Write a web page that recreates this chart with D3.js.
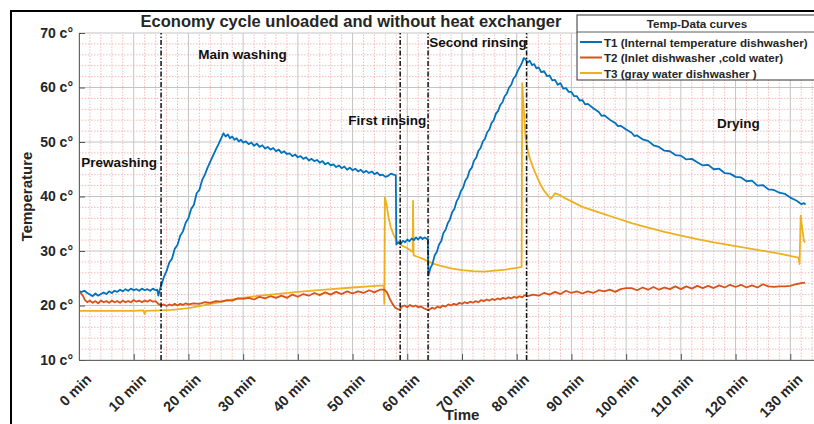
<!DOCTYPE html>
<html>
<head>
<meta charset="utf-8">
<script src="https://cdn.jsdelivr.net/npm/d3@7"></script>
<style>
  body { margin: 0; background: #fff; }
  text { font-family: "Liberation Sans", Arial, sans-serif; font-weight: bold; fill: #262626; }
</style>
</head>
<body>
<div id="container"></div>
<script>
// chart texts
var title = "Economy cycle unloaded and without heat exchanger";
var legendTitle = "Temp-Data curves";
var seriesNames = ["T1 (Internal temperature dishwasher)", "T2 (Inlet dishwasher ,cold water)", "T3 (gray water dishwasher )"];
var seriesColors = ["#0072BD", "#D95319", "#EDB120"];

// ticks
var xTicks = [0, 10, 20, 30, 40, 50, 60, 70, 80, 90, 100, 110, 120, 130];
var yTicks = [10, 20, 30, 40, 50, 60, 70];

// phase boundaries (min) and phase labels [text, min, temp]
var phaseLines = [15, 58.7, 63.8, 81.8];
var phaseLabels = [
	["Prewashing", 0.4, 45.4],
	["Main washing", 21.8, 65.2],
	["First rinsing", 49.2, 53.2],
	["Second rinsing", 64.0, 67.4],
	["Drying", 116.6, 52.6]
];

// T1 internal temperature [min, °C]
var t1 = [[0,22.6],[0.5,22.5],[1,22.7],[1.5,22.3],[2,22.0],[2.5,21.7],[3,22.2],[3.5,21.8],[4,22.1],[4.5,22.4],[5,22.1],[5.5,22.6],[6,22.3],[6.5,22.7],[7,22.5],[7.5,22.9],[8,22.6],[8.5,23.0],[9,22.7],[9.5,23.1],[10,22.8],[10.5,23.0],[11,22.7],[11.5,23.1],[12,22.8],[12.5,23.0],[13,22.7],[13.5,23.1],[14,22.8],[14.3,22.9],[14.5,21.8],[14.7,22.6],
	[15,23.6],[15.5,25.2],[16,26.3],[16.5,27.9],[17,28.6],[17.5,30.4],[18,31.1],[18.5,32.8],[19,33.6],[19.5,35.2],[20,36.0],[20.5,37.7],[21,38.5],[21.5,40.6],[22,41.2],[22.5,43.0],[23,44.0],[23.5,45.3],[24,46.4],[24.5,47.5],[25,48.6],[25.5,49.6],[26,50.7],[26.4,51.6],
	[26.8,51.0],[27.2,51.4],[27.6,50.7],[28,51.0],[28.4,50.4],[28.8,50.7],[29.2,50.1],[29.6,50.4],[30,49.9],[30.5,50.1],[31,49.6],[31.5,49.9],[32,49.3],[32.5,49.7],[33,49.1],[33.5,49.4],[34,48.8],[34.5,49.1],[35,48.6],[35.5,48.9],[36,48.3],[36.5,48.6],[37,48.0],[37.5,48.3],[38,47.8],[38.5,47.9],[39,47.4],[39.5,47.7],[40,47.2],[40.5,47.4],[41,46.9],[41.5,47.2],[42,46.6],[42.5,46.9],[43,46.5],[43.5,46.7],[44,46.2],[44.5,46.5],[45,45.9],[45.5,46.2],[46,45.7],[46.5,45.9],[47,45.4],[47.5,45.7],[48,45.2],[48.5,45.5],[49,44.9],[49.5,45.3],[50,44.8],[50.5,45.1],[51,44.6],[51.5,44.9],[52,44.4],[52.5,44.7],[53,44.3],[53.5,44.6],[54,44.1],[54.5,44.4],[55,43.9],[55.5,44.0],[56,43.6],[56.5,43.8],[57,44.2],[57.5,44.0],[57.9,43.9],
	[58.0,31.2],[58.4,31.6],[58.8,31.3],[59.2,31.9],[59.6,31.6],[60,32.1],[60.4,31.8],[60.8,32.3],[61.2,32.0],[61.6,32.5],[62,32.1],[62.4,32.6],[62.8,32.2],[63.2,32.5],[63.6,32.2],[63.75,32.3],
	[63.85,25.5],[64.2,26.8],[64.6,27.6],[65,29.2],[65.4,29.8],[65.8,31.2],[66.2,31.8],[66.6,33.3],[67,33.9],[67.4,35.1],[67.8,35.8],[68.2,37.1],[68.6,37.7],[69,39.1],[69.4,39.8],[69.8,41.0],[70.2,41.6],[70.6,42.9],[71,43.5],[71.4,44.8],[71.8,45.3],[72.2,46.6],[72.6,47.1],[73,48.4],[73.4,48.9],[73.8,50.1],[74.2,50.6],[74.6,51.8],[75,52.3],[75.4,53.5],[75.8,54.0],[76.2,55.2],[76.6,55.7],[77,56.8],[77.4,57.3],[77.8,58.4],[78.2,58.9],[78.6,60.0],[79,60.5],[79.4,61.6],[79.8,62.1],[80.2,63.1],[80.6,63.8],[81,64.6],[81.3,65.4],
	[81.6,65.2],[82,64.6],[82.4,64.9],[82.8,64.1],[83.2,64.3],[83.6,63.5],[84,63.7],[84.5,62.8],[85,63.0],[85.5,62.1],[86,62.2],[86.5,61.3],[87,61.4],[87.5,60.5],[88,60.8],[88.5,59.8],[89,59.9],[89.5,59.2],[90,59.2],[90.5,58.4],[91,58.4],[91.5,57.6],[92,57.7],[92.5,56.9],[93,57.0],[94,56.2],[95,55.5],[95.5,54.8],[96,54.9],[97,54.1],[98,53.5],[98.5,52.9],[99,53.0],[100,52.3],[101,51.7],[101.5,51.1],[102,51.2],[103,50.5],[104,50.2],[105,49.4],[106,49.1],[107,48.4],[108,48.3],[109,47.6],[110,47.5],[111,46.8],[112,46.9],[113,46.3],[114,45.7],[115,45.8],[116,45.0],[117,45.1],[118,44.3],[119,44.2],[120,43.6],[121,43.5],[122,42.8],[123,42.9],[124,42.0],[125,42.1],[126,41.3],[127,41.2],[128,40.7],[129,40.5],[130,39.8],[131,39.3],[131.5,39.0],[132,38.6],[132.5,38.8],[132.8,38.5]];

// T2 inlet cold water [min, °C]
var t2 = [[0,22.3],[0.3,22.3],[0.7,21.8],[1.1,21.0],[1.5,20.6],[2,20.9],[2.5,20.5],[3,20.8],[3.5,20.4],[4,20.9],[4.5,20.6],[5,20.8],[5.5,20.5],[6,20.9],[6.5,20.6],[7,20.8],[7.5,20.5],[8,20.9],[8.5,20.6],[9,20.8],[9.5,20.6],[10,21.0],[10.5,20.7],[11,20.9],[11.5,20.6],[12,20.9],[12.5,20.7],[13,21.0],[13.5,20.7],[14,20.8],[14.5,20.3],[15,20.0],[15.5,20.2],[16,19.9],[16.5,20.2],[17,20.0],[17.5,20.3],[18,20.0],[18.5,20.3],[19,20.1],[19.5,20.4],[20,20.2],[21,20.4],[22,20.3],[23,20.6],[24,20.5],[25,20.8],[26,20.7],[27,21.0],[28,20.9],[29,21.3],[30,21.2],[31,21.4],[32,21.1],[33,21.6],[34,21.3],[35,21.7],[36,21.4],[37,21.8],[38,21.4],[39,22.0],[40,21.6],[41,22.1],[42,21.8],[43,22.3],[44,21.9],[45,22.4],[46,22.0],[47,22.5],[48,22.1],[49,22.6],[50,22.2],[51,22.6],[52,22.3],[53,22.8],[54,22.4],[55,22.9],[55.8,22.9],[56.3,22.4],[56.8,21.2],[57.3,20.3],[57.8,19.6],[58.3,19.3],[58.7,19.3],[59.1,19.9],[59.5,20.0],[60,19.7],[60.5,20.1],[61,19.8],[61.5,20.0],[62,19.7],[62.5,19.8],[63,19.5],[63.5,19.3],[64,19.2],[64.5,19.6],[65,19.4],[65.5,19.8],[66,19.6],[66.5,20.0],[67,19.8],[67.5,20.2],[68,20.0],[68.5,20.3],[69,20.1],[69.5,20.5],[70,20.3],[70.5,20.6],[71,20.4],[71.5,20.7],[72,20.5],[72.5,20.8],[73,20.6],[73.5,21.0],[74,20.8],[74.5,21.1],[75,20.9],[75.5,21.2],[76,21.0],[76.5,21.3],[77,21.1],[77.5,21.4],[78,21.2],[78.5,21.5],[79,21.3],[79.5,21.6],[80,21.4],[80.5,21.7],[81,21.5],[81.5,21.9],[82,21.7],[83,22.0],[84,21.8],[85,22.3],[86,22.0],[87,22.5],[88,22.1],[89,22.7],[90,22.3],[91,22.6],[92,22.2],[93,22.6],[94,22.3],[95,22.8],[96,22.6],[97,22.9],[98,22.5],[99,23.0],[100,23.2],[101,23.2],[102,22.8],[103,23.3],[104,22.9],[105,23.4],[106,22.9],[107,23.3],[108,23.0],[109,23.5],[110,23.0],[111,23.5],[112,23.1],[113,23.6],[114,23.2],[115,23.6],[116,23.2],[117,23.7],[118,23.3],[119,23.8],[120,23.4],[121,23.8],[122,23.3],[123,23.7],[124,23.3],[125,23.9],[126,23.5],[127,23.4],[128,23.5],[129,23.5],[130,23.6],[131,23.9],[132,24.1],[132.7,24.2]];

// T3 gray water [min, °C]
var t3 = [[0,19.0],[5,19.0],[10,19.0],[11.8,19.1],[12,18.4],[12.2,19.0],[15,19.1],[17,19.2],[20,19.5],[22,19.9],[25,20.5],[28,21.1],[30,21.4],[33,21.8],[36,22.1],[40,22.5],[45,22.9],[50,23.3],[53,23.5],[55.7,23.7],[55.8,20.3],[55.9,39.8],[56.2,38.6],[56.6,36.0],[57.0,34.3],[57.5,33.0],[58.1,31.8],[59,31.0],[60,30.5],[61,29.8],[61.05,39.2],[61.15,29.2],[62,28.9],[63,28.5],[64,28.0],[65,27.6],[66,27.3],[68,26.8],[70,26.5],[72,26.3],[74,26.2],[76,26.4],[78,26.6],[80,26.9],[80.9,27.1],[81.0,60.8],[81.3,56.0],[81.6,51.0],[82,48.5],[82.4,47.0],[83,45.3],[83.7,43.6],[84.3,42.3],[84.9,41.2],[85.6,40.3],[86.2,39.6],[86.5,39.9],[87,40.6],[88,40.2],[89,39.6],[90,39.1],[92,38.1],[95,37.1],[98,36.1],[101,35.1],[104,34.3],[107,33.5],[110,32.8],[113,32.2],[116,31.6],[120,30.9],[124,30.2],[128,29.5],[131.5,28.8],[131.7,27.6],[131.9,36.5],[132.2,34.0],[132.5,31.8],[132.7,31.6]];

var series = [t1, t2, t3];

var width = 814, height = 424;

var svg = d3.select("#container").append("svg")
	.attr("width", width)
	.attr("height", height);

// outer figure frame (cropped on right and bottom)
svg.append("rect")
	.attr("x", 11).attr("y", 11)
	.attr("width", 900).attr("height", 500)
	.style("fill", "none").style("stroke", "#000").style("stroke-width", 2);

var x = d3.scaleLinear().domain([0, 140]).range([79, 845]);
var y = d3.scaleLinear().domain([10, 70]).range([360, 33]);

var plot = svg.append("g");

// minor grid (pink dotted)
plot.selectAll(".xminor")
	.data(d3.range(2, 140, 2).filter(function(d) { return d % 10 != 0; }))
	.enter().append("line")
		.attr("x1", function(d) { return x(d); }).attr("x2", function(d) { return x(d); })
		.attr("y1", y(10)).attr("y2", y(70))
		.style("stroke", "#f4a8a8").style("stroke-dasharray", "1.5,1.5").style("stroke-width", 0.8);
plot.selectAll(".yminor")
	.data(d3.range(12, 70, 2).filter(function(d) { return d % 10 != 0; }))
	.enter().append("line")
		.attr("x1", x(0)).attr("x2", x(140))
		.attr("y1", function(d) { return y(d); }).attr("y2", function(d) { return y(d); })
		.style("stroke", "#f4a8a8").style("stroke-dasharray", "1.5,1.5").style("stroke-width", 0.8);

// major grid
plot.selectAll(".xmajor")
	.data(xTicks.concat([140]))
	.enter().append("line")
		.attr("x1", function(d) { return x(d); }).attr("x2", function(d) { return x(d); })
		.attr("y1", y(10)).attr("y2", y(70))
		.style("stroke", "#c4c4c4").style("stroke-width", 1);
plot.selectAll(".ymajor")
	.data(yTicks)
	.enter().append("line")
		.attr("x1", x(0)).attr("x2", x(140))
		.attr("y1", function(d) { return y(d); }).attr("y2", function(d) { return y(d); })
		.style("stroke", "#c4c4c4").style("stroke-width", 1);

// axes
var xAxis = d3.axisBottom(x).tickValues(xTicks).tickSizeInner(-6).tickSizeOuter(0).tickFormat("");
var yAxis = d3.axisLeft(y).tickValues(yTicks).tickSizeInner(-6).tickSizeOuter(0)
	.tickFormat(function(d) { return d + " c\u00b0"; });

var gx = svg.append("g").attr("transform", "translate(0," + y(10) + ")").call(xAxis);
gx.select(".domain").style("stroke", "#666");
gx.selectAll(".tick line").style("stroke", "#555");

gx.selectAll(".xlab")
	.data(xTicks)
	.enter().append("text")
		.attr("transform", function(d) { return "translate(" + (x(d) + 6) + ",13) rotate(-45)"; })
		.style("text-anchor", "end")
		.attr("dy", "0.71em")
		.style("font-size", "14.5px")
		.text(function(d) { return d + " min"; });

var gy = svg.append("g").attr("transform", "translate(" + x(0) + ",0)").call(yAxis);
gy.select(".domain").style("stroke", "#666");
gy.selectAll(".tick line").style("stroke", "#555");
gy.selectAll(".tick text")
	.attr("x", -6)
	.style("font-size", "14px")
	.style("font-family", "'Liberation Sans', Arial, sans-serif")
	.style("font-weight", "bold")
	.style("fill", "#262626");

// axis labels
svg.append("text")
	.attr("transform", "translate(32," + ((y(10) + y(70)) / 2) + ") rotate(-90)")
	.style("text-anchor", "middle")
	.style("font-size", "15px")
	.text("Temperature");

svg.append("text")
	.attr("x", (x(0) + x(140)) / 2)
	.attr("y", 420)
	.style("text-anchor", "middle")
	.style("font-size", "15px")
	.text("Time");

// title
svg.append("text")
	.attr("x", 351)
	.attr("y", 27)
	.style("text-anchor", "middle")
	.style("font-size", "16.5px")
	.text(title);

// curves
var line = d3.line()
	.x(function(d) { return x(d[0]); })
	.y(function(d) { return y(d[1]); });

// draw T3 first, then T2, then T1 on top
[2, 1, 0].forEach(function(i) {
	plot.append("path")
		.datum(series[i])
		.attr("d", line)
		.style("fill", "none")
		.style("stroke", seriesColors[i])
		.style("stroke-width", 1.8)
		.style("stroke-linejoin", "round");
});

// phase separators (dash-dot)
plot.selectAll(".phase")
	.data(phaseLines)
	.enter().append("line")
		.attr("x1", function(d) { return x(d); }).attr("x2", function(d) { return x(d); })
		.attr("y1", y(10)).attr("y2", y(70))
		.style("stroke", "#111").style("stroke-width", 1.5)
		.style("stroke-dasharray", "5,2,1.5,2");

// phase labels
plot.selectAll(".phaseLabel")
	.data(phaseLabels)
	.enter().append("text")
		.attr("x", function(d) { return x(d[1]); })
		.attr("y", function(d) { return y(d[2]); })
		.style("font-size", "13.5px")
		.style("fill", "#111")
		.text(function(d) { return d[0]; });

// legend
var legend = svg.append("g").attr("transform", "translate(577,15)");
legend.append("rect")
	.attr("width", 260).attr("height", 65)
	.style("fill", "#fff").style("stroke", "#333").style("stroke-width", 1);
legend.append("line")
	.attr("x1", 0).attr("x2", 260).attr("y1", 17).attr("y2", 17)
	.style("stroke", "#333").style("stroke-width", 0.8);
legend.append("text")
	.attr("x", 120).attr("y", 13)
	.style("text-anchor", "middle")
	.style("font-size", "11.7px")
	.text(legendTitle);

var entry = legend.selectAll(".entry")
	.data(seriesNames)
	.enter().append("g")
		.attr("transform", function(d, i) { return "translate(0," + (27 + i * 15.5) + ")"; });
entry.append("line")
	.attr("x1", 3).attr("x2", 25)
	.style("stroke", function(d, i) { return seriesColors[i]; })
	.style("stroke-width", 2);
entry.append("text")
	.attr("x", 27).attr("y", 4.5)
	.style("font-size", "11.6px")
	.text(function(d) { return d; });
</script>
</body>
</html>
